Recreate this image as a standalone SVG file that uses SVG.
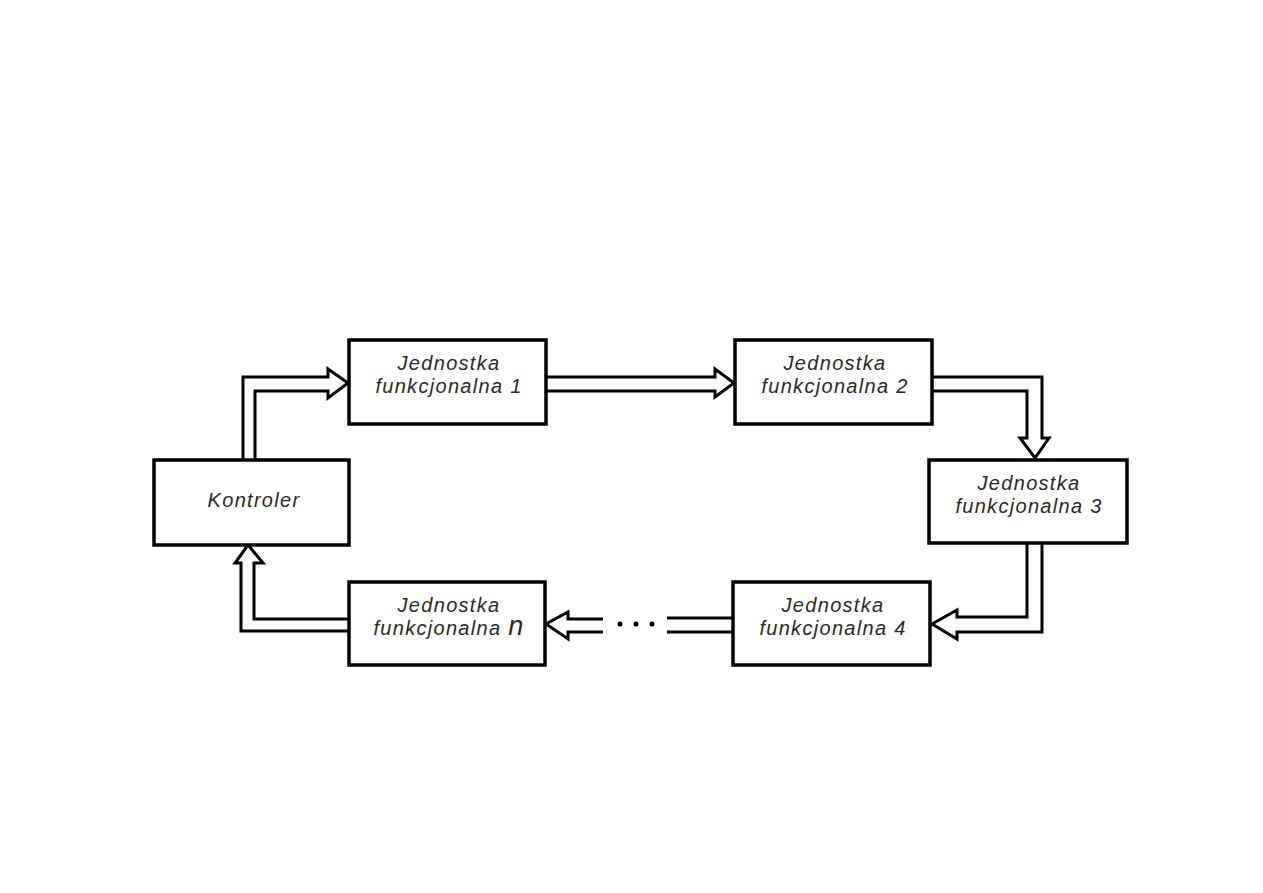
<svg xmlns="http://www.w3.org/2000/svg" width="1263" height="893" viewBox="0 0 1263 893">
<style>
.box{fill:#fff;stroke:#000;stroke-width:3.5}
.arr{fill:#fff;stroke:#000;stroke-width:3;stroke-linejoin:miter}
.ln{fill:none;stroke:#000;stroke-width:3}
.t{font-family:"Liberation Sans",Arial,sans-serif;font-style:italic;font-size:20px;letter-spacing:1.3px;fill:#2a2a2a;text-anchor:middle}
</style>
<rect width="1263" height="893" fill="#fff"/>
<g id="connectors">
<path class="arr" d="M243,460 V377 H328 V369 L348,383 L328,398 V391 H255 V460"/>
<path class="arr" d="M546,377 H715 V369 L734,383 L715,397 V391 H546"/>
<path class="arr" d="M932,377 H1042 V438 H1049 L1035,458 L1020,438 H1027 V391 H932"/>
<path class="arr" d="M1027,543 V617 H957 V610 L932,624 L957,639 V632 H1042 V543"/>
<path class="ln" d="M733,618 H667 M733,632 H667"/>
<circle cx="620" cy="624" r="2.5"/>
<circle cx="636" cy="624" r="2.5"/>
<circle cx="652" cy="624" r="2.5"/>
<path class="arr" d="M603,619 H568 V612 L546,624 L568,639 V632 H603"/>
<path class="arr" d="M349,619 H254 V563 H263 L248,545 L235,563 H241 V631 H349"/>
</g>
<g id="kontroler">
<rect class="box" x="154" y="460" width="195" height="85"/>
<text class="t" x="254" y="507">Kontroler</text>
</g>
<g id="jf1">
<rect class="box" x="349" y="340" width="197" height="84"/>
<text class="t" x="449" y="370">Jednostka</text>
<text class="t" x="449" y="393">funkcjonalna 1</text>
</g>
<g id="jf2">
<rect class="box" x="735" y="340" width="197" height="84"/>
<text class="t" x="835" y="370">Jednostka</text>
<text class="t" x="835" y="393">funkcjonalna 2</text>
</g>
<g id="jf3">
<rect class="box" x="929" y="460" width="198" height="83"/>
<text class="t" x="1029" y="490">Jednostka</text>
<text class="t" x="1029" y="513">funkcjonalna 3</text>
</g>
<g id="jf4">
<rect class="box" x="733" y="582" width="197" height="83"/>
<text class="t" x="833" y="612">Jednostka</text>
<text class="t" x="833" y="635">funkcjonalna 4</text>
</g>
<g id="jfn">
<rect class="box" x="349" y="582" width="196" height="83"/>
<text class="t" x="449" y="612">Jednostka</text>
<text class="t" x="449" y="635">funkcjonalna <tspan font-size="27px">n</tspan></text>
</g>
</svg>
